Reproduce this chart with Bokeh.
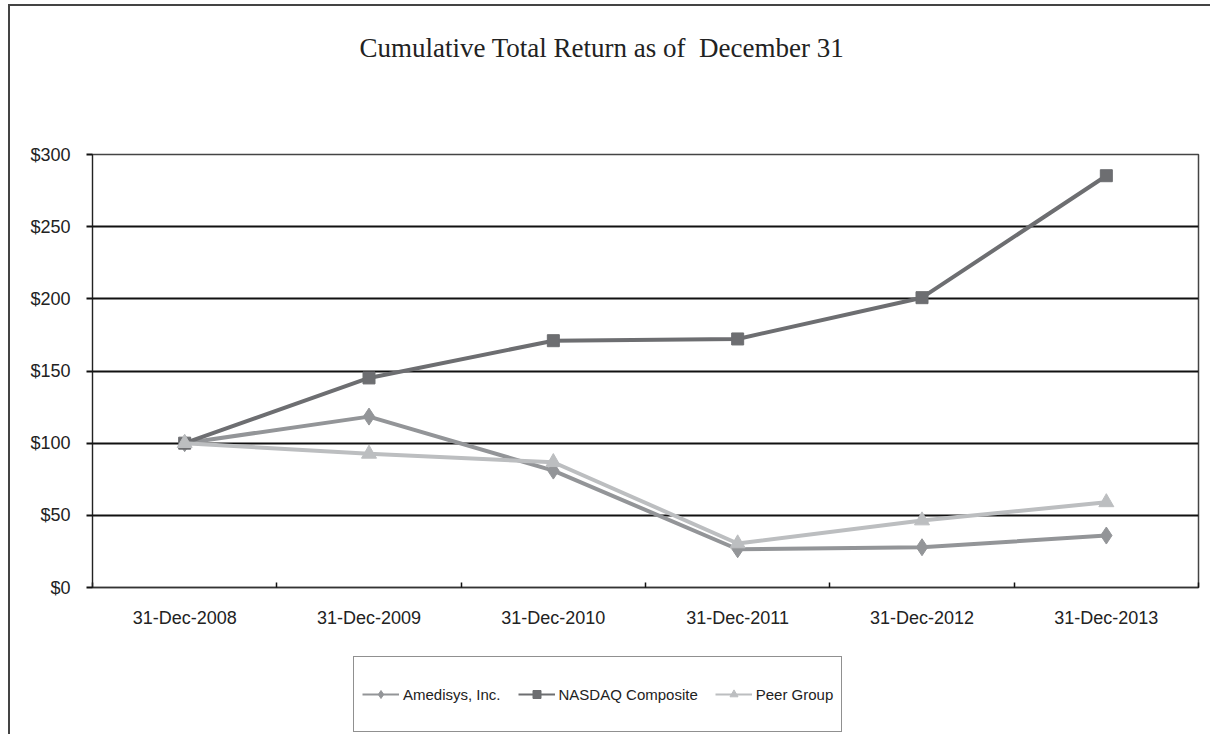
from bokeh.plotting import figure
from bokeh.layouts import column
from bokeh.models import (FixedTicker, NumeralTickFormatter, Legend, LegendItem, Range1d, Label)
from bokeh.embed import file_html
from bokeh.resources import INLINE

categories = ["31-Dec-2008", "31-Dec-2009", "31-Dec-2010", "31-Dec-2011", "31-Dec-2012", "31-Dec-2013"]
amedisys = [100, 118.4, 81, 26.5, 27.9, 36]
nasdaq = [100, 145.2, 171, 172.2, 200.8, 285.3]
peer = [100, 92.6, 86.8, 30.5, 46.4, 59]
y_ticks = [0, 50, 100, 150, 200, 250, 300]
series_names = ["Amedisys, Inc.", "NASDAQ Composite", "Peer Group"]
title_text = "Cumulative Total Return as of\u00a0 December 31"

xs = [i + 0.5 for i in range(len(categories))]

W = 1200


def blank(height):
    f = figure(width=W, height=height, output_backend="svg", toolbar_location=None,
               x_range=Range1d(0, 1), y_range=Range1d(0, 1),
               x_axis_location=None, y_axis_location=None,
               min_border_left=0, min_border_right=0, min_border_top=0, min_border_bottom=0)
    f.grid.visible = False
    f.outline_line_color = None
    f.background_fill_color = "white"
    f.border_fill_color = "white"
    return f


# title panel
TH = 70
tf = blank(TH)
tf.add_layout(Label(x=267, y=TH - 41, x_units="screen", y_units="screen", text=title_text,
                    text_font="Liberation Serif", text_font_size="27px",
                    text_color="#222222", text_baseline="middle", text_align="left"))

H = 644 - TH
p = figure(width=W, height=H, output_backend="svg", toolbar_location=None,
           x_range=Range1d(0, len(categories)), y_range=Range1d(0, 300),
           min_border_left=82, min_border_right=12, min_border_top=148 - TH, min_border_bottom=63)

p.outline_line_color = "#444444"
p.outline_line_width = 1.5
p.background_fill_color = "white"
p.border_fill_color = "white"

p.xaxis.ticker = FixedTicker(ticks=xs, minor_ticks=list(range(0, len(categories) + 1)))
p.xaxis.major_label_overrides = {x: c for x, c in zip(xs, categories)}
p.xaxis.major_tick_in = 0
p.xaxis.major_tick_out = 0
p.xaxis.minor_tick_in = 5
p.xaxis.minor_tick_out = 0
p.xaxis.minor_tick_line_color = "#111111"
p.xaxis.minor_tick_line_width = 1.5
p.xaxis.axis_line_color = "#333333"
p.xaxis.axis_line_width = 1.5
p.xaxis.major_label_standoff = 20
p.xaxis.major_label_text_font = "Liberation Sans"
p.xaxis.major_label_text_font_size = "18px"
p.xaxis.major_label_text_color = "#222222"

p.yaxis.ticker = FixedTicker(ticks=y_ticks)
p.yaxis.formatter = NumeralTickFormatter(format="$0")
p.yaxis.major_tick_in = 0
p.yaxis.major_tick_out = 6
p.yaxis.major_tick_line_width = 2
p.yaxis.major_tick_line_color = "#111111"
p.yaxis.minor_tick_line_color = None
p.yaxis.axis_line_color = "#222222"
p.yaxis.axis_line_width = 1
p.yaxis.major_label_standoff = 16
p.yaxis.major_label_text_font = "Liberation Sans"
p.yaxis.major_label_text_font_size = "18px"
p.yaxis.major_label_text_color = "#222222"

p.xgrid.grid_line_color = None
p.ygrid.ticker = FixedTicker(ticks=y_ticks)
p.ygrid.grid_line_color = "#111111"
p.ygrid.grid_line_width = 2

c_am, c_nq, c_pg = "#939598", "#6d6e71", "#bcbec0"
colors = [c_am, c_nq, c_pg]
markers = ["diamond", "square", "triangle"]
sizes = [17, 12, 15]

for vals, col, mk, sz in zip([amedisys, nasdaq, peer], colors, markers, sizes):
    p.line(xs, vals, line_color=col, line_width=4)
    p.scatter(xs, vals, marker=mk, size=sz, fill_color=col, line_color=col)

# legend panel
LH = 84
q = blank(LH)

items = []
for name, col, mk in zip(series_names, colors, markers):
    lr = q.line([-5, -4], [-5, -4], line_color=col, line_width=2)
    sr = q.scatter([-5], [-5], marker=mk, size=8, fill_color=col, line_color=col)
    items.append(LegendItem(label=name, renderers=[lr, sr]))

legend = Legend(items=items, orientation="horizontal", location=(261, 2))
legend.border_line_color = "#222222"
legend.border_line_width = 1
legend.background_fill_alpha = 1
legend.padding = 8
legend.margin = 0
legend.spacing = 17
legend.glyph_width = 37
legend.glyph_height = 20
legend.label_height = 58
legend.label_standoff = 4
legend.label_text_font = "Liberation Sans"
legend.label_text_font_size = "15px"
legend.label_text_color = "#222222"
q.add_layout(legend, "center")

layout = column(tf, p, q, spacing=0)
layout.styles = {"border-left": "2px solid #444", "border-top": "2px solid #444",
                 "margin-left": "8px", "margin-top": "4px"}

open("out.html", "w").write(file_html(layout, INLINE))
